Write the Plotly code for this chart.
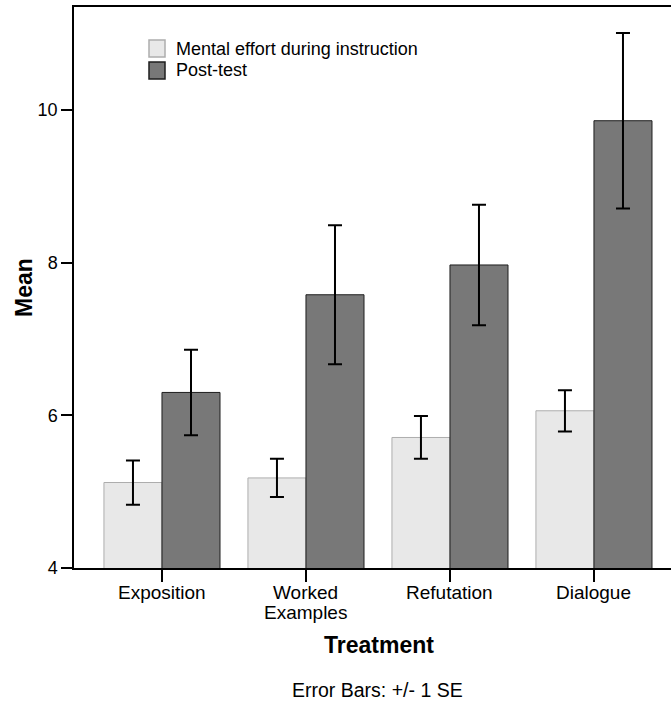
import plotly.graph_objects as go

# Group means and standard errors per treatment
categories = ["Exposition", "Worked Examples", "Refutation", "Dialogue"]
tick_lines = [["Exposition"], ["Worked", "Examples"], ["Refutation"], ["Dialogue"]]
effort_mean = [5.12, 5.18, 5.71, 6.06]
effort_se = [0.29, 0.25, 0.28, 0.27]
posttest_mean = [6.30, 7.58, 7.97, 9.86]
posttest_se = [0.56, 0.91, 0.79, 1.15]
series_names = ["Mental effort during instruction", "Post-test"]

W, H = 671, 702
ML, MR, MT, MB = 74, 0, 7, 134
PW, PH = W - ML - MR, H - MT - MB
FONT = "Liberation Sans, Arial, Helvetica, sans-serif"


def px(x):
    return (x - ML) / PW


def py(y):
    return (H - MB - y) / PH


xpos = list(range(len(categories)))
bar_w = 0.403

fig = go.Figure()
fig.add_trace(go.Bar(
    x=xpos, y=effort_mean, width=bar_w, offset=-bar_w,
    name=series_names[0],
    marker=dict(color="#e8e8e8", line=dict(color="#adadad", width=1)),
    error_y=dict(type="data", array=effort_se, visible=True,
                 color="black", thickness=2, width=7),
))
fig.add_trace(go.Bar(
    x=xpos, y=posttest_mean, width=bar_w, offset=0,
    name=series_names[1],
    marker=dict(color="#787878", line=dict(color="#1e1e1e", width=1)),
    error_y=dict(type="data", array=posttest_se, visible=True,
                 color="black", thickness=2, width=7),
))

# Legend drawn as swatches + labels inside the plot area
legend_rows = [
    (series_names[0], "#e8e8e8", "#adadad", 40, 57),
    (series_names[1], "#787878", "#1e1e1e", 62, 79),
]
shapes = []
annotations = []
for name, fill, edge, y0, y1 in legend_rows:
    shapes.append(dict(type="rect", xref="paper", yref="paper",
                       x0=px(149), x1=px(165), y0=py(y1), y1=py(y0),
                       fillcolor=fill, line=dict(color=edge, width=1.5)))
    annotations.append(dict(xref="paper", yref="paper", x=px(174), y=py((y0 + y1) / 2),
                            text=name, showarrow=False, xanchor="left", yanchor="middle",
                            font=dict(family=FONT, size=18, color="black")))

# Category labels under the ticks, one text line per row
for xi, lines in zip(xpos, tick_lines):
    for k, line in enumerate(lines):
        annotations.append(dict(xref="x", yref="paper", x=xi, y=py(592 + 20 * k),
                                text=line, showarrow=False,
                                xanchor="center", yanchor="middle",
                                font=dict(family=FONT, size=19, color="black")))

annotations += [
    dict(xref="paper", yref="paper", x=px(379), y=py(645), text="<b>Treatment</b>",
         showarrow=False, xanchor="center", yanchor="middle",
         font=dict(family=FONT, size=23, color="black")),
    dict(xref="paper", yref="paper", x=px(377), y=py(690), text="Error Bars: +/- 1 SE",
         showarrow=False, xanchor="center", yanchor="middle",
         font=dict(family=FONT, size=19.5, color="black")),
    dict(xref="paper", yref="paper", x=px(24), y=py(287), text="<b>Mean</b>",
         showarrow=False, xanchor="center", yanchor="middle", textangle=-90,
         font=dict(family=FONT, size=23, color="black")),
]

fig.update_layout(
    width=W, height=H,
    margin=dict(l=ML, r=MR, t=MT, b=MB, pad=0),
    paper_bgcolor="white", plot_bgcolor="white",
    showlegend=False,
    barmode="overlay",
    font=dict(family=FONT, size=18, color="black"),
    shapes=shapes,
    annotations=annotations,
)
fig.update_xaxes(
    range=[-0.611, 3.535], tickvals=xpos, showticklabels=False,
    showline=True, linecolor="black", linewidth=1.5, mirror=True,
    ticks="outside", ticklen=12, tickwidth=1.5, tickcolor="black",
    showgrid=False, zeroline=False,
)
fig.update_yaxes(
    range=[4, 11.35], tickvals=[4, 6, 8, 10],
    showline=True, linecolor="black", linewidth=1.5,
    ticks="outside", ticklen=11, tickwidth=1.5, tickcolor="black",
    showgrid=False, zeroline=False,
    tickfont=dict(family=FONT, size=18, color="black"),
)

fig.write_html("out.html")
